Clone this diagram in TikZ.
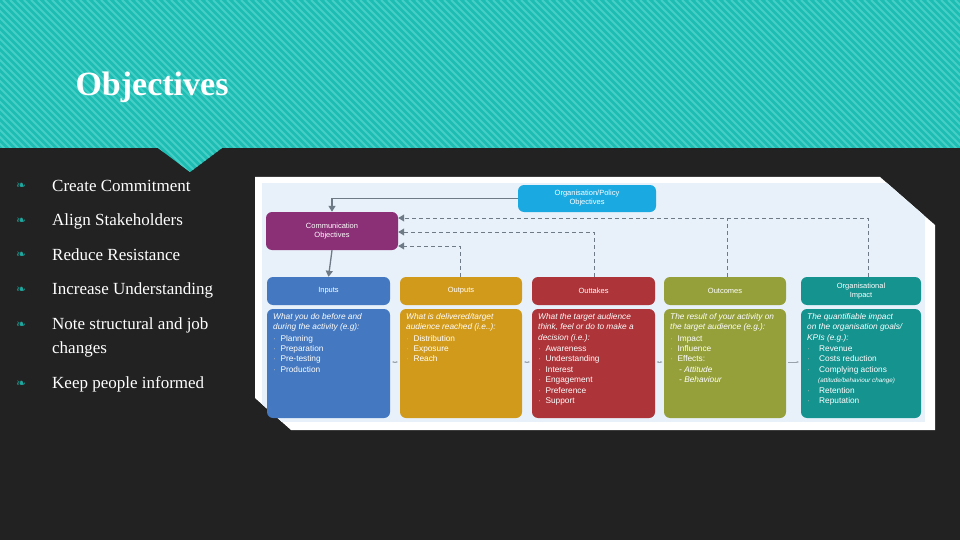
\documentclass[tikz,border=0pt]{standalone}
\usepackage{fontspec}
\setmainfont{Liberation Serif}
\newfontfamily\dsans{Liberation Sans}
\newfontfamily\dejavu{DejaVu Sans}
\usetikzlibrary{arrows.meta}
\definecolor{bgdark}{HTML}{222222}
\definecolor{teal1}{HTML}{1DBDB3}
\definecolor{teal2}{HTML}{45CFC6}
\definecolor{leaf}{HTML}{1FA89F}
\definecolor{lightbg}{HTML}{E8F1FA}
\definecolor{cOrg}{HTML}{1BA9E1}
\definecolor{cCom}{HTML}{8B2F77}
\definecolor{cIn}{HTML}{4478C0}
\definecolor{cOut}{HTML}{D29A1A}
\definecolor{cTake}{HTML}{AD3439}
\definecolor{cCome}{HTML}{95A03B}
\definecolor{cImp}{HTML}{14938F}
\definecolor{arr}{HTML}{6E7A86}
\tikzset{
 hdr/.style={rounded corners=6pt, text=white, font=\dsans\fontsize{7.5}{9}\selectfont, align=center, inner sep=0pt},
 bodytxt/.style={anchor=north west, text=white, font=\dsans\fontsize{8.3}{10.4}\selectfont, align=left, inner sep=0pt},
 bul/.style={anchor=west, text=white, font=\fontsize{17}{20}\selectfont, inner sep=0pt},
 solidarr/.style={draw=arr, line width=1.3pt, -{Triangle[length=6pt,width=7pt]}},
 dasharr/.style={draw=arr, line width=1pt, dash pattern=on 4pt off 3pt, -{Triangle[length=6pt,width=7pt]}},
 smallarr/.style={draw=arr!70, line width=0.6pt, {Stealth[length=2.5pt]}-{Stealth[length=2.5pt]}},
}
\newcommand{\itx}{\itshape}
\newcommand{\bp}{{\color{white!75!black}\textperiodcentered}\ \ }
\begin{document}
\begin{tikzpicture}[x=1pt,y=-1pt]
\useasboundingbox (0,0) rectangle (960,540);
\fill[bgdark] (0,0) rectangle (960,540);
% header
\begin{scope}
\clip (0,0) -- (960,0) -- (960,148) -- (222,148) -- (190,172) -- (158,148) -- (0,148) -- cycle;
\fill[teal1] (0,0) rectangle (960,175);
\foreach \i in {-200,-193,...,1000} {\draw[teal2, line width=2pt] (\i,0) -- (\i+180,180);}
\end{scope}
\node[anchor=west, text=white, font=\bfseries\fontsize{34}{40}\selectfont] (title) at (72,87) {Objectives};
% bullets
\foreach \y/\t [count=\k] in {186/Create Commitment,221/Align Stakeholders,255/Reduce Resistance,290/Increase Understanding,325/Note structural and job,384/Keep people informed}{
  \node[text=leaf, font=\dejavu\fontsize{12}{12}\selectfont, anchor=west, inner sep=0pt] (ic\k) at (16,\y) {❧};
  \node[bul] (b\k) at (52,\y) {\t};
}
\node[bul] (b5b) at (52,349) {changes};
% frame
\fill[white] (255,177) -- (880,177) -- (935,225) -- (935,430) -- (291,430) -- (255,398) -- cycle;
\begin{scope}
\clip (255,177) -- (880,177) -- (935,225) -- (935,430) -- (291,430) -- (255,398) -- cycle;
\fill[lightbg] (262,183) rectangle (925,422);
\end{scope}
% top boxes
\node[hdr, fill=cOrg, minimum width=138pt, minimum height=27pt] (org) at (587,198.5) {Organisation/Policy\\Objectives};
\node[hdr, fill=cCom, minimum width=132pt, minimum height=38pt] (com) at (332,231) {Communication\\Objectives};
% headers
\foreach \n/\c/\xa/\xb/\t in {in/cIn/267/390/Inputs, out/cOut/400/522/Outputs, take/cTake/532/655/Outtakes, come/cCome/664/786/Outcomes, imp/cImp/801/921/{Organisational\\Impact}}{
  \node[hdr, fill=\c, minimum width=\xb-\xa, minimum height=28pt] (h\n) at ({(\xa+\xb)/2},291) {\t};
  \fill[\c, rounded corners=6pt] (\xa,309) rectangle (\xb,418);
}
\node[bodytxt] (tin) at (273,313) {{\itx What you do before and}\\{\itx during the activity (e.g):}\\[1pt]\bp Planning\\\bp Preparation\\\bp Pre-testing\\\bp Production};
\node[bodytxt] (tout) at (406,313) {{\itx What is delivered/target}\\{\itx audience reached (i.e..):}\\[1pt]\bp Distribution\\\bp Exposure\\\bp Reach};
\node[bodytxt] (ttake) at (538,313) {{\itx What the target audience}\\{\itx think, feel or do to make a}\\{\itx decision (i.e.):}\\[1pt]\bp Awareness\\\bp Understanding\\\bp Interest\\\bp Engagement\\\bp Preference\\\bp Support};
\node[bodytxt] (tcome) at (670,313) {{\itx The result of your activity on}\\{\itx the target audience (e.g.):}\\[1pt]\bp Impact\\\bp Influence\\\bp Effects:\\\hspace{9pt}{\itx - Attitude}\\\hspace{9pt}{\itx - Behaviour}};
\node[bodytxt] (timp) at (807,313) {{\itx The quantifiable impact}\\{\itx on the organisation goals/}\\{\itx KPIs (e.g.):}\\[1pt]\bp\ \ Revenue\\\bp\ \ Costs reduction\\\bp\ \ Complying actions\\\hspace{11pt}{\fontsize{6.3}{8}\selectfont\itx(attitude/behaviour change)}\\\bp\ \ Retention\\\bp\ \ Reputation};
% solid arrows
\draw[solidarr] (org.west) -| (com.north);
\draw[solidarr] (com.south) -- (hin.north);
% dashed feedback
\coordinate (d1) at (868,218); \coordinate (d2) at (727,218);
\coordinate (d3) at (594,232); \coordinate (d4) at (460,246);
\draw[dasharr] (himp.north -| d1) -- (d1) -- (com.east |- d1);
\draw[dasharr, -] (hcome.north -| d2) -- (d2);
\draw[dasharr] (htake.north -| d3) -- (d3) -- (com.east |- d3);
\draw[dasharr] (hout.north -| d4) -- (d4) -- (com.east |- d4);
% small arrows between bodies
\coordinate (m1) at (395,362); \coordinate (m2) at (527,362); \coordinate (m3) at (659.5,362);
\draw[smallarr] ([xshift=-3pt]m1) -- ([xshift=3pt]m1);
\draw[smallarr] ([xshift=-3pt]m2) -- ([xshift=3pt]m2);
\draw[smallarr] ([xshift=-3pt]m3) -- ([xshift=3pt]m3);
\draw[draw=arr!70, line width=0.6pt, -{Stealth[length=2.5pt]}] (788,362) -- (799,362);
\end{tikzpicture}
\end{document}
